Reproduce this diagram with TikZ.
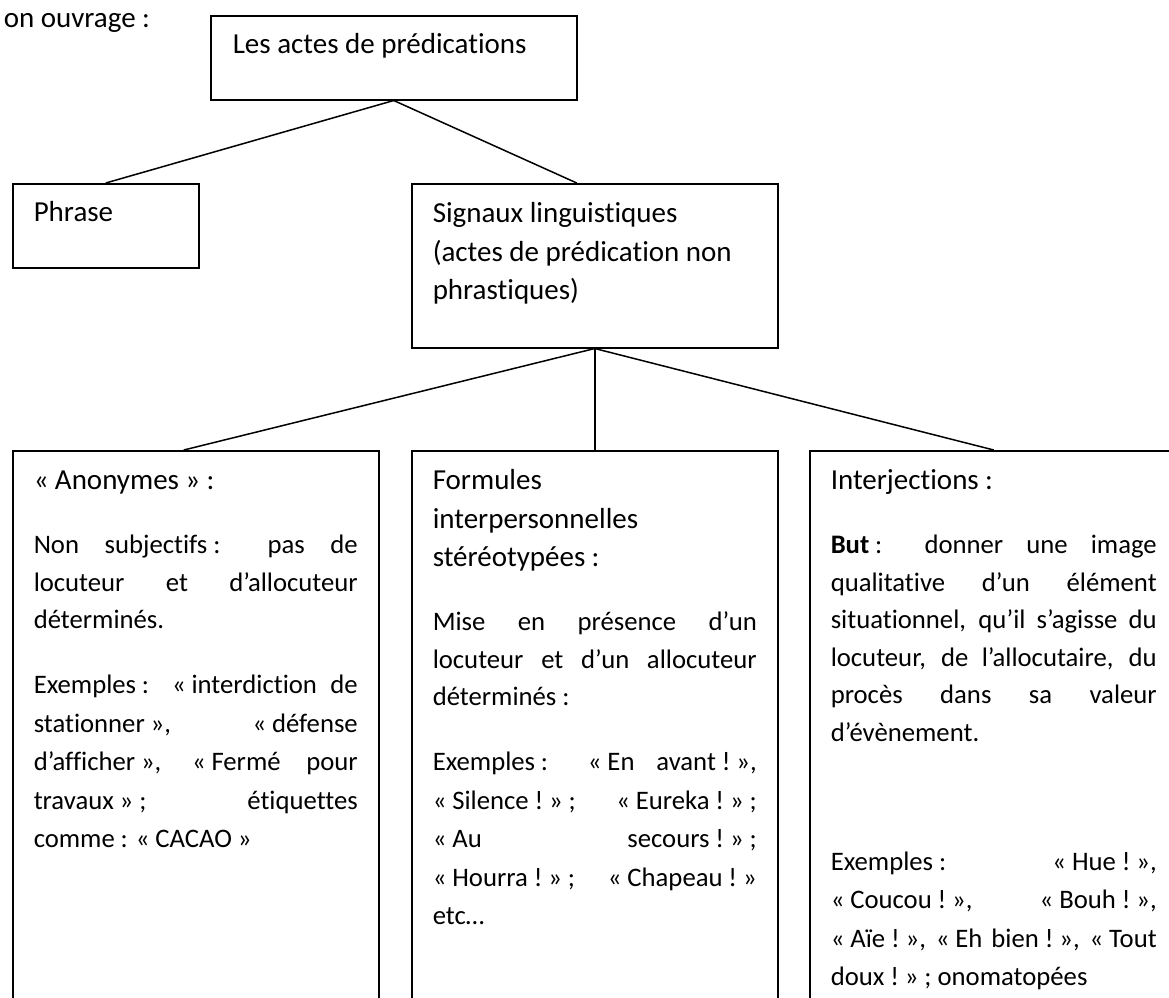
\documentclass[tikz,border=0pt]{standalone}
\usepackage{fontspec}
\setmainfont{Carlito}[Ligatures=NoCommon]
\tolerance=10000
\hyphenpenalty=10000
\newcommand{\fsp}{\kern0.22em}
\newcommand{\parsaut}[1][26.5pt]{\par\vspace{#1}}
\newcommand{\corps}{\fontsize{26.7}{37.5}\selectfont}
\begin{document}
\begin{tikzpicture}[x=1pt,y=-1pt,line width=1.5pt,
    texte/.style={font=\fontsize{29}{38.5}\selectfont},
    cadre/.style={draw, texte, anchor=north west, align=justify, inner xsep=21pt, text height=20pt}]
		\useasboundingbox (0,0) rectangle (1169,997);
		\clip (0,0) rectangle (1169,997);
		\node (intro) [texte, anchor=base west, inner sep=0pt] at (3,27) {on ouvrage\fsp:};
		\node (actes) [cadre, text width=322pt, inner xsep=22pt, inner ysep=18pt, text depth=28pt] at (210,15) {Les actes de prédications};
		\node (phrase) [cadre, text width=144pt, inner ysep=18pt, text depth=28pt] at (12,183) {Phrase};
		\node (signaux) [cadre, text width=324pt, inner ysep=19pt, text depth=106pt] at (411,183) {Signaux linguistiques\\ (actes de prédication non\\ phrastiques)};
		\node (anonymes) [cadre, text width=324pt, inner ysep=19pt, text depth=560pt] at (12,450) {«\fsp Anonymes\fsp»\fsp:\parsaut\corps
			Non subjectifs\fsp: pas de\linebreak locuteur et d’allocuteur\linebreak déterminés.\parsaut
			Exemples\fsp: «\fsp interdiction de\linebreak stationner\fsp», «\fsp défense\linebreak d’afficher\fsp», «\fsp Fermé pour\linebreak travaux\fsp»\fsp; étiquettes\linebreak comme\fsp: «\fsp CACAO\fsp»};
		\node (formules) [cadre, text width=324pt, inner ysep=19pt, text depth=560pt] at (411,450) {Formules\\ interpersonnelles\\ stéréotypées\fsp:\parsaut\corps
			Mise en présence d’un\linebreak locuteur et d’un allocuteur\linebreak déterminés\fsp:\parsaut
			Exemples\fsp: «\fsp En avant\fsp!\fsp»,\linebreak «\fsp Silence\fsp!\fsp»\fsp; «\fsp Eureka\fsp!\fsp»\fsp;\linebreak «\fsp Au secours\fsp!\fsp»\fsp;\linebreak «\fsp Hourra\fsp!\fsp»\fsp; «\fsp Chapeau\fsp!\fsp»\linebreak etc…};
		\node (interj) [cadre, text width=326pt, inner ysep=19pt, text depth=560pt] at (809,450) {Interjections\fsp:\parsaut\corps
			\textbf{But}\fsp: donner une image\linebreak qualitative d’un élément\linebreak situationnel, qu’il s’agisse du\linebreak locuteur, de l’allocutaire, du\linebreak procès dans sa valeur\linebreak d’évènement.\parsaut[90.5pt]
			Exemples\fsp: «\fsp Hue\fsp!\fsp»,\linebreak «\fsp Coucou\fsp!\fsp», «\fsp Bouh\fsp!\fsp»,\linebreak «\fsp Aïe\fsp!\fsp», «\fsp Eh bien\fsp!\fsp», «\fsp Tout\linebreak doux\fsp!\fsp»\fsp; onomatopées};
		
		\draw (actes.south) -- (phrase.north);
		\draw (actes.south) -- ([xshift=-18pt]signaux.north);
		\draw (signaux.south) -- ([xshift=-12pt]anonymes.north);
		\draw (signaux.south) -- (formules.north);
		\draw (signaux.south) -- (interj.north);
\end{tikzpicture}
\end{document}
